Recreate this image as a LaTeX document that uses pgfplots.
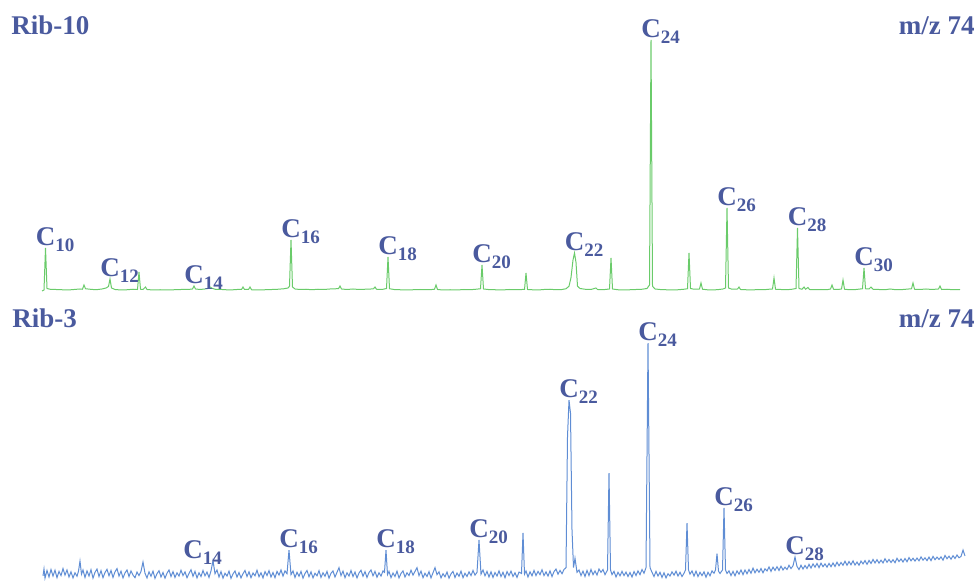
\documentclass[border=0pt]{standalone}
\usepackage{fontspec}
\setmainfont{Liberation Serif}
\usepackage{pgfplots}
\pgfplotsset{compat=1.18}

\definecolor{labblue}{HTML}{4A5A9E}
\definecolor{tracegreen}{HTML}{6ACB6A}
\definecolor{traceblue}{HTML}{5F8DD4}

% peak label: carbon number as subscript
\newcommand{\clab}[1]{\fontsize{13.5}{14}\selectfont\bfseries C\raisebox{-0.22em}{\fontsize{9.5}{10}\selectfont\bfseries #1}}
\newcommand{\ttl}[1]{\fontsize{13.5}{16}\selectfont\bfseries #1}

\begin{document}
\begin{tikzpicture}[
  pk/.style={text=labblue, inner sep=0pt, anchor=base west, xshift=-5pt, yshift=1.2pt},
  hd/.style={text=labblue, inner sep=0pt},
]
\path[use as bounding box] (0,0) rectangle (489.5pt,291pt);

% ---------- Rib-10 (m/z 74) ----------
\begin{axis}[
  at={(0pt,141pt)}, anchor=south west,
  scale only axis, width=489.5pt, height=150pt,
  xmin=0, xmax=979, ymin=-4, ymax=116,
  hide axis, clip=false,
]
\addplot[tracegreen, line width=0.5pt] coordinates {
(42,-0.4)(44,0)(45.5,16.8)(47,0.6)(50,0.3)(56,0.2)(62,0.1)(68,0.0)(74,0.2)(80,0.4)(82.5,0.3)(84,2)(85.5,0.5)(90,0.3)(96,0.1)(102,0.4)(106,0.8)(108.5,1.4)(110,4.4)(111.5,0.8)(115,0.2)(121,0.0)(127,0.1)(133,0.3)(137.5,0.2)(139,7.2)(140.5,0.3)(143,0.2)(145.5,1.2)(147,0.2)(153,0.0)(160,0.1)(167,0.0)(174,0.1)(181,0.2)(188,0.2)(192.5,0.4)(194,1.6)(195.5,0.4)(200,0.2)(205,0.4)(208,0.6)(210,1.2)(212,0.7)(215,0.3)(222,0.2)(230,0.0)(237,0.2)(241.5,0.2)(243,1.2)(244.5,0.2)(248.5,0.2)(250,1.2)(251.5,0.1)(258,0.0)(265,0.1)(272,0.2)(278,0.3)(284,0.5)(288,0.8)(289.5,1.5)(291,20)(292.5,1.2)(295,0.4)(300,0.2)(306,0.3)(312,0.1)(318,0.3)(324,0.2)(330,0.4)(336,0.5)(338.5,0.5)(340,1.6)(341.5,0.4)(347,0.2)(353,0.4)(359,0.2)(365,0.3)(371,0.4)(373.5,0.5)(375,1.2)(376.5,0.3)(382,0.2)(386.5,0.6)(388,13.2)(389.5,0.5)(394,0.2)(400,0.1)(406,0.0)(413,0.1)(420,0.2)(426,0.1)(432,0.2)(434.5,0.3)(436,2)(437.5,0.2)(443,0.0)(450,0.1)(457,0.0)(464,0.2)(470,0.1)(476,0.3)(480.5,0.5)(482,10)(483.5,0.4)(488,0.2)(495,0.1)(502,0.0)(509,0.2)(516,0.1)(522,0.2)(524.5,0.2)(526,6.8)(527.5,0.2)(532,0.1)(538,0.0)(544,0.2)(550,0.3)(556,0.1)(562,0.2)(566,0.5)(569,1.5)(571,5)(573,12)(574.5,14.8)(576,11)(577.5,1.5)(580,0.6)(585,0.3)(591,0.2)(596,0.8)(597.5,0.2)(603,0.1)(609.5,0.4)(611,12.8)(612.5,0.4)(618,0.1)(624,0.0)(630,0.1)(636,0.2)(642,0.3)(647,0.6)(649.5,2)(651,100)(652.5,1.5)(655,0.4)(660,0.2)(666,0.1)(672,0.0)(678,0.1)(684,0.3)(687.5,0.5)(689,14.8)(690.5,0.6)(694,0.3)(699.5,0.4)(701,2.8)(702.5,0.3)(707,0.1)(713,0.0)(719,0.2)(723,0.4)(725.5,0.8)(727,32.8)(728.5,0.8)(732,0.3)(737.5,0.4)(739,1.2)(740.5,0.2)(746,0.1)(752,0.0)(758,0.2)(764,0.1)(769,0.3)(772.5,0.4)(774,4.8)(775.5,0.3)(781,0.2)(787,0.1)(792,0.3)(796,0.6)(797.5,24.8)(799,0.6)(802,0.3)(804,1.2)(805.5,0.3)(808,1)(809.5,0.2)(815,0.1)(821,0.2)(827,0.1)(830.5,0.4)(832,2)(833.5,0.3)(838,0.2)(841.5,0.4)(843,4)(844.5,0.3)(850,0.1)(856,0.2)(862.5,0.5)(864,8.8)(865.5,0.5)(869,0.4)(871,1.2)(873,0.3)(879,0.2)(885,0.1)(890,0.4)(894,0.2)(900,0.1)(906,0.3)(911.5,0.5)(913,2.8)(914.5,0.3)(920,0.2)(926,0.4)(932,0.2)(938.5,0.4)(940,1.6)(941.5,0.2)(947,0.3)(953,0.1)(960,0.2)
};
\node[hd, anchor=base west] at (axis cs:11,102) {\ttl{Rib-10}};
\node[hd, anchor=base east] at (axis cs:975,102) {\ttl{m/z 74}};
\node[pk] at (axis cs:45.5,16.8) {\clab{10}};
\node[pk] at (axis cs:110,4.4) {\clab{12}};
\node[pk] at (axis cs:194,1.6) {\clab{14}};
\node[pk] at (axis cs:291,20) {\clab{16}};
\node[pk] at (axis cs:388,13.2) {\clab{18}};
\node[pk] at (axis cs:482,10) {\clab{20}};
\node[pk] at (axis cs:574.5,14.8) {\clab{22}};
\node[pk] at (axis cs:651,100) {\clab{24}};
\node[pk] at (axis cs:727,32.8) {\clab{26}};
\node[pk] at (axis cs:797.5,24.8) {\clab{28}};
\node[pk] at (axis cs:864,8.8) {\clab{30}};
\end{axis}

% ---------- Rib-3 (m/z 74) ----------
\begin{axis}[
  at={(0pt,0pt)}, anchor=south west,
  scale only axis, width=489.5pt, height=141pt,
  xmin=0, xmax=979, ymin=-2.14, ymax=118.4,
  hide axis, clip=false,
]
\addplot[traceblue, line width=0.5pt] coordinates {
(43,0.5)(44,3.5)(45,-0.5)(47,2.8)(49,0.0)(51,3.2)(53,0.4)(55,2.9)(57,-0.3)(59,2.4)(61,0.6)(63,3.6)(65,0.8)(67,3.0)(69,0.0)(71,2.2)(73,-0.4)(75,1.8)(77,0.3)(78.5,2.5)(80,6.8)(81.5,1.2)(83,3.0)(85,-0.2)(87,2.6)(89,0.4)(91,3.1)(93,-0.5)(95,2.0)(97,3.4)(99,0.2)(101,2.7)(103,-0.3)(105,1.9)(107,3.3)(109,0.5)(111,2.8)(113,-0.2)(115,2.2)(117,3.6)(119,0.4)(121,2.5)(123,-0.4)(125,1.7)(127,3.0)(129,0.2)(131,2.6)(133,0.8)(135,-0.3)(137,2.1)(139,0.6)(141,2.4)(143,6.4)(145,1.6)(147,-0.4)(149,2.2)(151,0.3)(153,2.5)(155,-0.6)(157,1.4)(159,2.7)(161,0.0)(163,1.9)(165,-0.5)(167,1.6)(169,3.0)(171,0.2)(173,2.3)(175,-0.2)(177,1.8)(179,0.4)(181,2.9)(183,0.6)(185,2.2)(187,-0.3)(189,1.5)(191,3.1)(193,0.3)(195,2.4)(197,-0.4)(199,1.8)(201,0.2)(203,2.8)(205,0.5)(207,2.1)(209,-0.2)(211,2.6)(213,7.0)(215,1.4)(217,3.0)(219,0.0)(221,2.3)(223,-0.5)(225,1.6)(227,0.4)(229,2.5)(231,-0.6)(233,1.3)(235,2.6)(237,0.0)(239,1.9)(241,-0.4)(243,1.4)(245,2.8)(247,0.2)(249,2.2)(251,-0.3)(253,1.7)(255,0.5)(257,2.9)(259,0.1)(261,1.8)(263,-0.4)(265,2.3)(267,0.6)(269,2.7)(271,0.0)(273,1.9)(275,-0.3)(277,2.4)(279,0.8)(281,3.0)(283,0.4)(285,2.6)(287,1.4)(289,11.5)(291,1.0)(293,2.6)(295,-0.2)(297,2.0)(299,0.3)(301,2.4)(303,-0.5)(305,1.5)(307,2.8)(309,0.1)(311,2.2)(313,-0.4)(315,1.6)(317,0.5)(319,2.7)(321,-0.2)(323,1.8)(325,0.3)(327,2.4)(329,-0.5)(331,1.6)(333,2.6)(335,0.0)(337,2.0)(339,4.0)(341,0.6)(343,2.5)(345,-0.3)(347,1.8)(349,0.4)(351,2.8)(353,0.2)(355,2.1)(357,-0.4)(359,1.7)(361,2.9)(363,0.3)(365,2.3)(367,-0.2)(369,1.9)(371,3.0)(373,0.5)(375,2.4)(377,-0.1)(379,1.8)(381,0.4)(383,2.6)(384.5,2.0)(386,11.5)(387.5,1.0)(389,2.4)(391,-0.3)(393,1.7)(395,0.2)(397,2.5)(399,-0.4)(401,1.5)(403,2.6)(405,0.0)(407,1.8)(409,0.6)(411,2.9)(413,0.8)(415,2.4)(417,4.0)(419,0.6)(421,2.5)(423,-0.3)(425,1.6)(427,0.2)(429,2.3)(431,-0.4)(433,1.8)(435,4.0)(437,1.0)(439,2.2)(441,-0.4)(443,1.4)(445,0.1)(447,2.1)(449,-0.5)(451,1.3)(453,2.4)(455,-0.2)(457,1.7)(459,0.3)(461,2.5)(463,-0.3)(465,1.6)(467,0.2)(469,2.2)(471,0.6)(473,2.8)(475,0.8)(477,2.0)(479,15.8)(481,1.2)(483,3.0)(485,0.5)(487,2.4)(489,0.0)(491,2.2)(493,-0.2)(495,1.9)(497,0.4)(499,2.6)(501,0.2)(503,2.0)(505,-0.3)(507,2.3)(509,0.6)(511,2.5)(513,0.2)(515,1.8)(517,-0.2)(519,2.1)(521.5,1.5)(523,18.8)(524.5,1.2)(526,2.6)(528,0.0)(530,2.2)(532,0.5)(534,2.8)(536,0.6)(538,2.4)(540,1.0)(542,3.1)(544,0.6)(546,2.2)(548,0.4)(550,2.6)(552,0.2)(554,2.3)(556,3.4)(558,1.2)(560,2.8)(562,1.4)(564,3.2)(566,4.0)(567.5,60)(569,75.6)(570.5,70)(572,20)(573.5,4)(575,8)(577,2.0)(579,3.0)(581,0.6)(583,2.5)(585,0.2)(587,2.8)(589,0.6)(591,3.2)(593,1.0)(595,2.6)(597,0.8)(599,3.4)(601,2.0)(603,3.2)(605,1.0)(607.5,3)(609,44.4)(610.5,3)(612,1.0)(614,2.4)(616,0.0)(618,2.0)(620,0.5)(622,2.4)(624,0.6)(626,2.1)(628,0.2)(630,1.9)(632,0.0)(634,2.3)(636,0.6)(638,2.6)(640,1.0)(642,3.2)(644,1.6)(646,4)(648,100)(650,4)(652,2.0)(654,0.2)(656,2.4)(658,0.4)(660,2.0)(662,-0.2)(664,1.8)(666,-0.4)(668,1.4)(670,0.4)(672,2.2)(674,0.8)(676,2.5)(678,0.4)(680,2.0)(682,0.2)(684,1.6)(685.5,3)(687,23)(688.5,3)(690,1.2)(692,2.6)(694,0.4)(696,2.5)(698,0.2)(700,2.0)(702,0.6)(704,2.2)(706,-0.1)(708,2.0)(710,0.5)(712,2.6)(714,1.6)(715.5,3)(717,10)(718.5,2.5)(720,1.5)(722.5,3)(724,29.5)(725.5,3)(727,1.5)(729,2.6)(731,0.6)(733,2.4)(735,0.5)(737,2.6)(739,1.2)(741,3.0)(743,1.0)(745,3.0)(747,1.4)(749,3.2)(751,1.6)(753,3.8)(755,1.8)(757,3.3)(759,2.0)(761,3.6)(763,1.8)(765,3.5)(767,2.6)(769,4.3)(771,2.4)(773,4.2)(775,2.8)(777,4.4)(779,2.8)(781,4.6)(783,3.0)(785,4.2)(787,3.2)(789,5.0)(791,3.6)(793,4.8)(795,8.5)(797,4.5)(799,3.2)(801,5.0)(803,3.4)(805,4.9)(807,3.6)(809,5.4)(811,3.8)(813,5.6)(815,4.2)(817,5.8)(819,4.0)(821,5.9)(823,4.4)(825,5.6)(827,4.2)(829,5.8)(831,4.4)(833,6.0)(835,4.5)(837,6.3)(839,4.8)(841,6.2)(843,5.0)(845,6.7)(847,5.0)(849,6.6)(851,5.2)(853,6.9)(855,5.1)(857,6.4)(859,5.0)(861,6.8)(863,5.6)(865,7.0)(867,5.4)(869,7.1)(871,5.8)(873,7.5)(875,6.0)(877,7.4)(879,5.9)(881,7.2)(883,6.0)(885,7.8)(887,6.3)(889,7.5)(891,6.2)(893,7.4)(895,6.1)(897,8.0)(899,6.6)(901,7.7)(903,6.4)(905,7.9)(907,6.5)(909,8.3)(911,6.9)(913,8.0)(915,6.8)(917,8.1)(919,6.9)(921,8.6)(923,7.2)(925,8.2)(927,7.0)(929,8.5)(931,7.0)(933,8.8)(935,7.4)(937,8.5)(939,7.5)(941,8.6)(943,7.2)(945,9.2)(947,7.8)(949,8.9)(951,7.6)(953,9.1)(955,7.9)(957,9.4)(959,8.2)(961,8.8)(963,11.5)(965,9.0)
};
\node[hd, anchor=base west] at (axis cs:12,106.8) {\ttl{Rib-3}};
\node[hd, anchor=base east] at (axis cs:975,106.8) {\ttl{m/z 74}};
\node[pk, xshift=-10pt] at (axis cs:213,7.0) {\clab{14}};
\node[pk] at (axis cs:289,11.5) {\clab{16}};
\node[pk] at (axis cs:386,11.5) {\clab{18}};
\node[pk] at (axis cs:479,15.8) {\clab{20}};
\node[pk] at (axis cs:569,75.6) {\clab{22}};
\node[pk] at (axis cs:648,100) {\clab{24}};
\node[pk] at (axis cs:724,29.5) {\clab{26}};
\node[pk] at (axis cs:795,8.5) {\clab{28}};
\end{axis}
\end{tikzpicture}
\end{document}
